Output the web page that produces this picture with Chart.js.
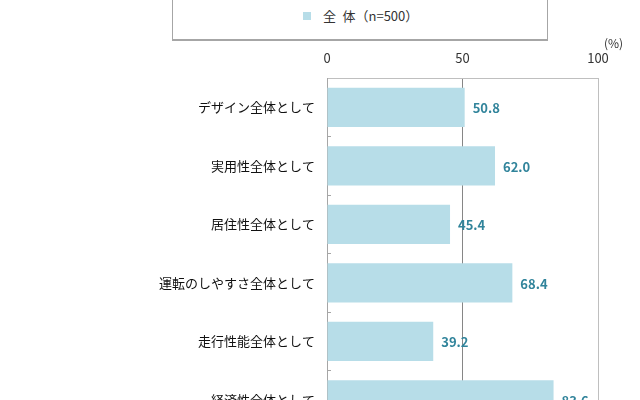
<!DOCTYPE html>
<html>
<head>
<meta charset="utf-8">
<script src="https://cdn.jsdelivr.net/npm/chart.js@4"></script>
<style>
  html, body { margin: 0; padding: 0; background: #fff; overflow: hidden; }
  #wrap { position: relative; width: 640px; height: 400px; overflow: hidden; }
  #chart { position: absolute; left: 0; top: 0; }
  #legend {
    position: absolute; left: 172px; top: -2px; width: 374px; height: 40px;
    border: 1px solid #a6a6a6; border-bottom-width: 2px; background: #fff;
    font-family: "Noto Sans CJK JP", sans-serif; font-size: 13px; color: #333;
  }
  #legend .item { position: absolute; left: 130px; top: 8px; line-height: 18px; white-space: nowrap; }
  #legend .box { display: inline-block; width: 8px; height: 8px; margin-right: 12px; vertical-align: 1px; }
</style>
</head>
<body>
<div id="wrap">
  <canvas id="chart" width="640" height="453"></canvas>
  <div id="legend"></div>
</div>
<script>
const categories = [
  "デザイン全体として",
  "実用性全体として",
  "居住性全体として",
  "運転のしやすさ全体として",
  "走行性能全体として",
  "経済性全体として"
];
const seriesName = "全\u2002体（n=500）";
const values = [50.8, 62.0, 45.4, 68.4, 39.2, 83.6];
const xTicks = [0, 50, 100];

const barColor = "#b7dde8";
const labelColor = "#31849b";
const font = "'Noto Sans CJK JP', sans-serif";

// legend box (top is cut off in the original)
document.getElementById("legend").innerHTML =
  '<span class="item"><span class="box" style="background:' + barColor + '"></span>' + seriesName + '</span>';

const valueLabels = {
  id: "valueLabels",
  afterDatasetsDraw(chart) {
    const ctx = chart.ctx;
    ctx.save();
    ctx.font = "bold 13px " + font;
    ctx.fillStyle = labelColor;
    ctx.textAlign = "left";
    ctx.textBaseline = "middle";
    chart.getDatasetMeta(0).data.forEach((bar, i) => {
      ctx.fillText(values[i].toFixed(1), bar.x + 8, bar.y + 1);
    });
    // unit
    ctx.font = "12px " + font;
    ctx.fillStyle = "#333";
    ctx.fillText("(%)", chart.chartArea.right + 6, 43);
    ctx.restore();
  }
};

new Chart(document.getElementById("chart"), {
  type: "bar",
  data: {
    labels: categories,
    datasets: [{
      label: seriesName,
      data: values,
      backgroundColor: barColor,
      borderWidth: 0,
      categoryPercentage: 1,
      barPercentage: 0.67
    }]
  },
  options: {
    indexAxis: "y",
    responsive: false,
    animation: false,
    layout: { padding: { top: 48, left: 0, right: 42, bottom: 0 } },
    plugins: {
      legend: { display: false },
      tooltip: { enabled: false }
    },
    scales: {
      x: {
        position: "top",
        min: 0,
        max: 100,
        afterBuildTicks: axis => { axis.ticks = xTicks.map(v => ({ value: v })); },
        afterFit: axis => { axis.height = 30; },
        ticks: { color: "#333", padding: 12, font: { family: font, size: 13 } },
        grid: {
          drawTicks: false,
          color: c => c.tick && c.tick.value === 50 ? "#868686" : "#bfbfbf",
          lineWidth: 1
        },
        border: { color: "#bfbfbf" }
      },
      y: {
        afterFit: axis => { axis.width = 327; },
        ticks: { color: "#111", padding: 16, font: { family: font, size: 13 } },
        grid: { drawOnChartArea: false, drawTicks: true, tickLength: -4, color: "#a6a6a6" },
        border: { color: "#a6a6a6" }
      }
    }
  },
  plugins: [valueLabels]
});
</script>
</body>
</html>
